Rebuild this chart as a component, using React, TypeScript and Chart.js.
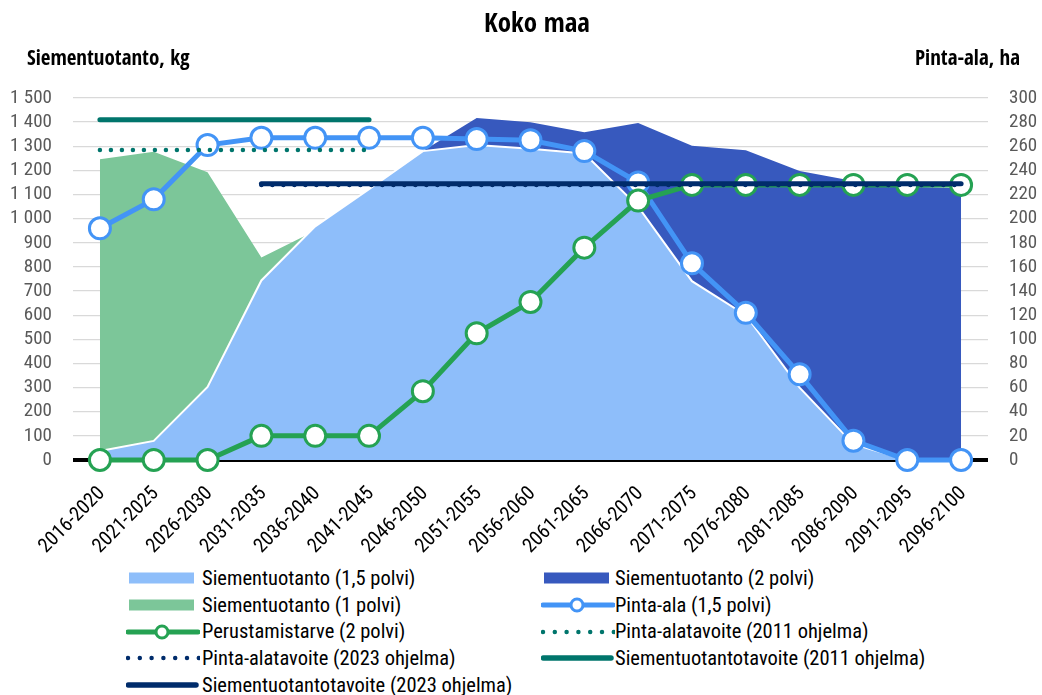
import React, { useEffect, useRef } from 'react';
import { Chart, registerables } from 'chart.js';

Chart.register(...registerables);

const FONT = "'Roboto Condensed', 'Liberation Sans', sans-serif";
const BOLD_FONT = "'Open Sans Condensed', 'Roboto Condensed', sans-serif";

const categories = [
  '2016-2020', '2021-2025', '2026-2030', '2031-2035', '2036-2040', '2041-2045',
  '2046-2050', '2051-2055', '2056-2060', '2061-2065', '2066-2070', '2071-2075',
  '2076-2080', '2081-2085', '2086-2090', '2091-2095', '2096-2100',
];

// Siementuotanto, kg (left axis)
const seed15 = [37, 79, 303, 744, 968, 1122, 1280, 1305, 1290, 1270, 1050, 741, 600, 300, 66, 0, 0];
const seed2 = [null, null, null, null, null, null, 1280, 1417, 1400, 1358, 1396, 1302, 1284, 1198, 1156, 1132, 1126];
const seed1 = [1246, 1277, 1192, 839, 950, null, null, null, null, null, null, null, null, null, null, null, null];
const seedTarget2011 = [1410, 1410, 1410, 1410, 1410, 1410, null, null, null, null, null, null, null, null, null, null, null];
const seedTarget2023 = [null, null, null, 1145, 1145, 1145, 1145, 1145, 1145, 1145, 1145, 1145, 1145, 1145, 1145, 1145, 1145];

// Pinta-ala, ha (right axis)
const area15 = [192, 216, 261, 267, 267, 267, 267, 266, 265, 256, 230, 163, 122, 71, 16, 0, 0];
const need2 = [0, 0, 0, 20, 20, 20, 57, 105, 131, 176, 215, 228, 228, 228, 228, 228, 228];
const areaTarget2011 = [257, 257, 257, 257, 257, 257, null, null, null, null, null, null, null, null, null, null, null];
const areaTarget2023 = [null, null, null, 228, 228, 228, 228, 228, 228, 228, 228, 228, 228, 228, 228, 228, 228];

const leftMax = 1500;
const leftStep = 100;
const rightMax = 300;
const rightStep = 20;

const C = {
  light: '#8EBEFA',
  dark: '#3759BE',
  greenArea: '#7CC699',
  blueLine: '#4394F6',
  greenLine: '#25A253',
  teal: '#00756C',
  navy: '#002C6B',
  grid: '#D9D9D9',
  tick: '#595959',
};

const fmt = (v: number | string) => String(v).replace(/\B(?=(\d{3})+(?!\d))/g, ' ');

type Sym = 'rect' | 'marker' | 'dotted' | 'solid';
const legendItems: { label: string; color: string; sym: Sym; col: number; row: number }[] = [
  { label: 'Siementuotanto (1,5 polvi)', color: C.light, sym: 'rect', col: 0, row: 0 },
  { label: 'Siementuotanto (2 polvi)', color: C.dark, sym: 'rect', col: 1, row: 0 },
  { label: 'Siementuotanto (1 polvi)', color: C.greenArea, sym: 'rect', col: 0, row: 1 },
  { label: 'Pinta-ala (1,5 polvi)', color: C.blueLine, sym: 'marker', col: 1, row: 1 },
  { label: 'Perustamistarve (2 polvi)', color: C.greenLine, sym: 'marker', col: 0, row: 2 },
  { label: 'Pinta-alatavoite (2011 ohjelma)', color: C.teal, sym: 'dotted', col: 1, row: 2 },
  { label: 'Pinta-alatavoite (2023 ohjelma)', color: C.navy, sym: 'dotted', col: 0, row: 3 },
  { label: 'Siementuotantotavoite (2011 ohjelma)', color: C.teal, sym: 'solid', col: 1, row: 3 },
  { label: 'Siementuotantotavoite (2023 ohjelma)', color: C.navy, sym: 'solid', col: 0, row: 4 },
];

function Symbol({ sym, color }: { sym: Sym; color: string }) {
  const w = 74, h = 20, cy = 10;
  let content: any = null;
  if (sym === 'rect') {
    content = <rect x={3} y={cy - 5.5} width={65} height={11} fill={color} />;
  } else if (sym === 'marker') {
    content = (
      <g>
        <line x1={2} y1={cy} x2={72} y2={cy} stroke={color} strokeWidth={5} strokeLinecap="round" />
        <circle cx={36} cy={cy} r={6} fill="#fff" stroke={color} strokeWidth={3} />
      </g>
    );
  } else if (sym === 'dotted') {
    content = (
      <line x1={2} y1={cy} x2={73} y2={cy} stroke={color} strokeWidth={4.5} strokeLinecap="round" strokeDasharray="0 11.8" />
    );
  } else {
    content = <line x1={2.5} y1={cy} x2={70} y2={cy} stroke={color} strokeWidth={5.5} strokeLinecap="round" />;
  }
  return (
    <svg width={w} height={h} style={{ display: 'block' }}>
      {content}
    </svg>
  );
}

export default function App() {
  const ref = useRef<HTMLCanvasElement>(null);

  useEffect(() => {
    if (!ref.current) return;
    const lineBase = { pointRadius: 0, fill: false, tension: 0, clip: false as any };
    const chart = new Chart(ref.current, {
      type: 'line',
      data: {
        labels: categories,
        datasets: [
          { ...lineBase, label: 'Siementuotantotavoite (2023 ohjelma)', data: seedTarget2023, yAxisID: 'y', borderColor: C.navy, borderWidth: 5, borderCapStyle: 'round' },
          { ...lineBase, label: 'Pinta-alatavoite (2023 ohjelma)', data: areaTarget2023, yAxisID: 'y1', borderColor: C.navy, borderWidth: 4.5, borderDash: [0, 11], borderCapStyle: 'round' },
          { ...lineBase, label: 'Siementuotantotavoite (2011 ohjelma)', data: seedTarget2011, yAxisID: 'y', borderColor: C.teal, borderWidth: 5, borderCapStyle: 'round' },
          { ...lineBase, label: 'Pinta-alatavoite (2011 ohjelma)', data: areaTarget2011, yAxisID: 'y1', borderColor: C.teal, borderWidth: 4.5, borderDash: [0, 11], borderCapStyle: 'round' },
          {
            ...lineBase, label: 'Perustamistarve (2 polvi)', data: need2, yAxisID: 'y1', borderColor: C.greenLine, borderWidth: 5,
            pointRadius: 10.5, pointBorderWidth: 3, pointBackgroundColor: '#fff', pointBorderColor: C.greenLine,
          },
          {
            ...lineBase, label: 'Pinta-ala (1,5 polvi)', data: area15, yAxisID: 'y1', borderColor: C.blueLine, borderWidth: 5,
            pointRadius: 10.5, pointBorderWidth: 3, pointBackgroundColor: '#fff', pointBorderColor: C.blueLine,
          },
          { ...lineBase, label: 'Siementuotanto (1,5 polvi)', data: seed15, yAxisID: 'y', borderColor: '#ffffff', borderWidth: 2, backgroundColor: C.light, fill: 'origin' },
          { ...lineBase, label: 'Siementuotanto (1 polvi)', data: seed1, yAxisID: 'y', borderColor: 'rgba(0,0,0,0)', borderWidth: 1, backgroundColor: C.greenArea, fill: 'origin' },
          { ...lineBase, label: 'Siementuotanto (2 polvi)', data: seed2, yAxisID: 'y', borderColor: 'rgba(0,0,0,0)', borderWidth: 1, backgroundColor: C.dark, fill: 'origin' },
        ] as any,
      },
      options: {
        animation: false,
        responsive: false,
        devicePixelRatio: 1,
        layout: { padding: { top: 98, left: 0, right: 0, bottom: 0 } },
        plugins: { legend: { display: false }, tooltip: { enabled: false }, title: { display: false } },
        scales: {
          x: {
            type: 'category',
            offset: true,
            grid: { display: false, drawTicks: false },
            border: { display: false },
            ticks: {
              autoSkip: false, minRotation: 45, maxRotation: 45, color: '#000',
              font: { family: FONT, size: 20 }, padding: 22, labelOffset: 2,
            },
            afterFit: (s: any) => { s.height = 100; },
          },
          y: {
            position: 'left', min: 0, max: leftMax,
            ticks: { stepSize: leftStep, autoSkip: false, maxTicksLimit: 30, color: C.tick, font: { family: FONT, size: 19 }, padding: 21, callback: (v: any) => fmt(v) },
            grid: {
              drawTicks: false,
              color: (ctx: any) => (ctx.tick && ctx.tick.value === 0 ? '#000' : C.grid),
              lineWidth: (ctx: any) => (ctx.tick && ctx.tick.value === 0 ? 4 : 1.3),
            },
            border: { display: false },
            afterFit: (s: any) => { s.width = 73; },
          },
          y1: {
            position: 'right', min: 0, max: rightMax,
            ticks: { stepSize: rightStep, autoSkip: false, maxTicksLimit: 30, color: C.tick, font: { family: FONT, size: 19 }, padding: 21 },
            grid: { display: false, drawTicks: false },
            border: { display: false },
            afterFit: (s: any) => { s.width = 54; },
          },
        } as any,
      },
    });
    return () => chart.destroy();
  }, []);

  const textStyle: React.CSSProperties = { fontFamily: FONT, color: '#000', position: 'absolute', whiteSpace: 'nowrap' };
  const boldStyle: React.CSSProperties = { ...textStyle, fontFamily: BOLD_FONT, fontWeight: 700 };

  return (
    <div style={{ position: 'absolute', left: 0, top: 0, width: 1042, height: 695, background: '#fff', overflow: 'hidden' }}>
      <canvas ref={ref} width={1042} height={560} style={{ position: 'absolute', left: 0, top: 0, width: 1042, height: 560 }} />
      <div style={{ ...boldStyle, left: 0, width: 1074, textAlign: 'center', top: 6, fontSize: 27, lineHeight: '32px' }}>Koko maa</div>
      <div style={{ ...boldStyle, left: 27, top: 42.5, fontSize: 21, lineHeight: '28px' }}>Siementuotanto, kg</div>
      <div style={{ ...boldStyle, right: 22, top: 42.5, fontSize: 21, lineHeight: '28px' }}>Pinta-ala, ha</div>
      {legendItems.map((it) => {
        const top = 565 + it.row * 26.7;
        const symLeft = it.col === 0 ? 126 : 541;
        const textLeft = it.col === 0 ? 202 : 615;
        return (
          <React.Fragment key={it.label}>
            <div style={{ position: 'absolute', left: symLeft, top: top + 3.35 }}>
              <Symbol sym={it.sym} color={it.color} />
            </div>
            <div style={{ ...textStyle, left: textLeft, top, height: 26.7, lineHeight: '26.7px', fontSize: 20.5 }}>{it.label}</div>
          </React.Fragment>
        );
      })}
    </div>
  );
}
